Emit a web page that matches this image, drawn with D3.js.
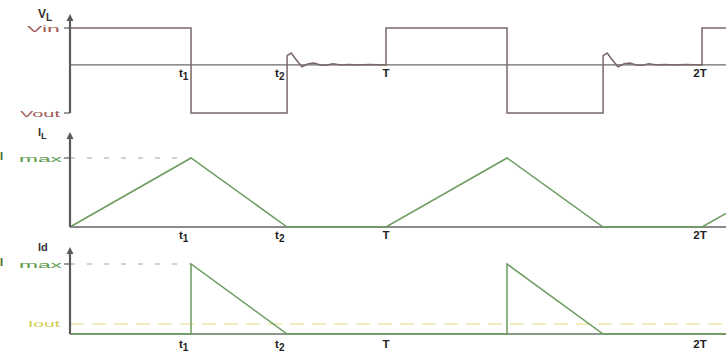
<!DOCTYPE html>
<html>
<head>
<meta charset="utf-8">
<script src="https://cdn.jsdelivr.net/npm/d3@7/dist/d3.min.js"></script>
<style>
  html, body { margin: 0; padding: 0; background: #fff; }
  svg { display: block; }
  text { font-family: "Liberation Sans", Arial, sans-serif; }
</style>
</head>
<body>
<svg id="chart" width="726" height="353"></svg>
<script>
// Switching times as fractions of the period T
const t1 = 0.383;
const t2 = 0.687;
const tickTimes = [t1, t2, 1, 2];
const tickNames = [["t", "1"], ["t", "2"], ["T", ""], ["2T", ""]];

// Inductor voltage levels (relative to Vin = 1)
const vIn = 1;
const vOut = -1.3;
// Ringing after the inductor current reaches zero: [time after t2, voltage]
const ringTimes = [0, 0.013, 0.025, 0.047, 0.067, 0.085, 0.105, 0.125, 0.145, 0.17, 0.195, 0.225, 0.26, 0.313];
const ringValues = [0.25, 0.32, 0.18, -0.05, 0.03, 0.05, 0.0, -0.01, 0.03, 0.0, 0.01, 0.0, 0.01, 0.0];

// Currents (relative to Imax = 1)
const iMax = 1;
const iOutLevel = 0.143;
const periods = [0, 1, 2];
const tEnd = 2.076;

const svg = d3.select("#chart");
const x = d3.scaleLinear().domain([0, 2]).range([70, 702]);
const yV = d3.scaleLinear().domain([vOut, vIn]).range([113, 28]);
const yIL = d3.scaleLinear().domain([0, iMax]).range([227, 158]);
const yId = d3.scaleLinear().domain([0, iMax]).range([334, 264]);

const axisColor = "#5a5a5a";
const voltColor = "#7a6868";
const greenColor = "#6b9c5e";
const lineGen = d3.line().x(d => x(d[0])).y(d => d[1]);

// Build waveforms
const vl = [];
periods.forEach(k => {
  const s = k;
  if (s > tEnd) return;
  vl.push([s, yV(0)], [s, yV(vIn)]);
  if (s + t1 > tEnd) { vl.push([tEnd, yV(vIn)]); return; }
  vl.push([s + t1, yV(vIn)], [s + t1, yV(vOut)], [s + t2, yV(vOut)]);
  ringTimes.forEach((rt, i) => vl.push([s + t2 + rt, yV(ringValues[i])]));
});

const il = [];
periods.forEach(k => {
  const s = k;
  if (s > tEnd) return;
  if (s + t1 > tEnd) {
    const frac = (tEnd - s) / t1;
    il.push([s, yIL(0)], [tEnd, yIL(iMax * frac)]);
    return;
  }
  il.push([s, yIL(0)], [s + t1, yIL(iMax)], [s + t2, yIL(0)], [Math.min(s + 1, tEnd), yIL(0)]);
});

const id = [];
periods.forEach(k => {
  const s = k;
  if (s > tEnd) return;
  if (s + t1 > tEnd) { id.push([s, yId(0)], [tEnd, yId(0)]); return; }
  id.push([s, yId(0)], [s + t1, yId(0)], [s + t1, yId(iMax)], [s + t2, yId(0)], [Math.min(s + 1, tEnd), yId(0)]);
});

function axisArrow(yTop, yBottom) {
  svg.append("line").attr("x1", x(0)).attr("x2", x(0))
    .attr("y1", yTop + 3).attr("y2", yBottom)
    .attr("stroke", axisColor).attr("stroke-width", 2.2);
  svg.append("path")
    .attr("d", `M${x(0) - 3.5},${yTop + 5} L${x(0)},${yTop - 2} L${x(0) + 3.5},${yTop + 5} Z`)
    .attr("fill", axisColor);
}

function tickMark(y) {
  svg.append("line").attr("x1", x(0) - 6).attr("x2", x(0))
    .attr("y1", y).attr("y2", y).attr("stroke", axisColor).attr("stroke-width", 1.2);
}

function sublabel(xp, yp, main, sub, color, size) {
  const t = svg.append("text").attr("x", xp).attr("y", yp)
    .attr("fill", color).attr("font-size", size).attr("font-weight", "bold");
  t.append("tspan").text(main);
  if (sub) t.append("tspan").attr("dy", 3).attr("font-size", size * 0.85).text(sub);
  return t;
}

// Wide, short level label ending just left of the axis
function levelLabel(xStart, width, yp, txt, color) {
  svg.append("text").attr("x", xStart).attr("y", yp)
    .attr("fill", color).attr("font-size", 9)
    .attr("textLength", width).attr("lengthAdjust", "spacingAndGlyphs")
    .text(txt);
}

function timeLabels(yp) {
  tickTimes.forEach((tt, i) => {
    const [m, s] = tickNames[i];
    const xp = x(tt);
    const t = svg.append("text").attr("x", xp - (s ? 12 : (m.length > 1 ? 2 : 0)))
      .attr("y", yp).attr("fill", "#222").attr("font-size", 11.5).attr("font-weight", "bold")
      .attr("text-anchor", s ? "start" : "middle");
    t.append("tspan").text(m);
    if (s) t.append("tspan").attr("dy", 3).attr("font-size", 10).text(s);
  });
}

function imaxLabel(yp) {
  svg.append("text").attr("x", 0).attr("y", yp + 2).attr("fill", "#3a6a2a")
    .attr("font-size", 11).attr("font-weight", "bold").text("I");
  levelLabel(19, 43, yp + 4, "max", "#5a9a4a");
}

// ---- Panel 1: inductor voltage ----
svg.append("line").attr("x1", x(0)).attr("x2", 726)
  .attr("y1", yV(0)).attr("y2", yV(0)).attr("stroke", "#6a6a6a").attr("stroke-width", 1.3);
svg.append("path").datum(vl).attr("d", lineGen)
  .attr("fill", "none").attr("stroke", voltColor).attr("stroke-width", 1.5);
axisArrow(16, yV(vOut));
tickMark(yV(vIn));
tickMark(yV(vOut));
sublabel(38, 18, "V", "L", "#333", 12);
levelLabel(27, 33, yV(vIn) + 3.5, "Vin", "#a05a5a");
levelLabel(20, 40, yV(vOut) + 3.5, "Vout", "#a05a5a");
timeLabels(77);

// ---- Panel 2: inductor current ----
svg.append("line").attr("x1", x(0)).attr("x2", 726)
  .attr("y1", yIL(0)).attr("y2", yIL(0)).attr("stroke", "#8a8a8a").attr("stroke-width", 2);
svg.append("line").attr("x1", x(0)).attr("x2", x(t1))
  .attr("y1", yIL(iMax)).attr("y2", yIL(iMax))
  .attr("stroke", "#9aa89a").attr("stroke-width", 1).attr("stroke-dasharray", "5,12");
svg.append("path").datum(il).attr("d", lineGen)
  .attr("fill", "none").attr("stroke", greenColor).attr("stroke-width", 1.5);
axisArrow(134, yIL(0));
tickMark(yIL(iMax));
sublabel(38, 136, "I", "L", "#333", 11);
imaxLabel(yIL(iMax));
timeLabels(239);

// ---- Panel 3: diode current ----
svg.append("line").attr("x1", x(0)).attr("x2", 726)
  .attr("y1", yId(0)).attr("y2", yId(0)).attr("stroke", "#8a9a8a").attr("stroke-width", 2);
svg.append("line").attr("x1", x(0)).attr("x2", x(t1))
  .attr("y1", yId(iMax)).attr("y2", yId(iMax))
  .attr("stroke", "#9aa89a").attr("stroke-width", 1).attr("stroke-dasharray", "5,12");
svg.append("line").attr("x1", x(0)).attr("x2", 726)
  .attr("y1", yId(iOutLevel)).attr("y2", yId(iOutLevel))
  .attr("stroke", "#ece6a8").attr("stroke-width", 1.6).attr("stroke-dasharray", "14,8");
svg.append("path").datum(id).attr("d", lineGen)
  .attr("fill", "none").attr("stroke", greenColor).attr("stroke-width", 1.5);
axisArrow(249, yId(0));
tickMark(yId(iMax));
sublabel(38, 251, "Id", "", "#333", 11);
imaxLabel(yId(iMax));
levelLabel(28, 32, yId(iOutLevel) + 3.5, "Iout", "#d8cc50");
timeLabels(348);
</script>
</body>
</html>
